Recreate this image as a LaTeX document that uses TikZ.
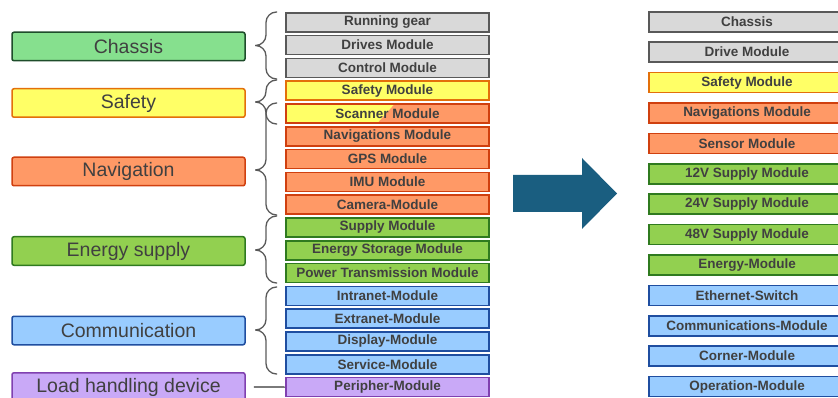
\documentclass[tikz,border=0pt]{standalone}
\usepackage{fontspec}
\setmainfont{Liberation Sans}
\usetikzlibrary{calc}
\definecolor{txt}{HTML}{404040}
\definecolor{greyF}{HTML}{D9D9D9}\definecolor{greyD}{HTML}{595959}
\definecolor{chasF}{HTML}{86E08E}\definecolor{chasD}{HTML}{1E4D2B}
\definecolor{yelF}{HTML}{FFFF66}\definecolor{yelD}{HTML}{E3700A}
\definecolor{orF}{HTML}{FF9966}\definecolor{orD}{HTML}{D0400F}
\definecolor{grF}{HTML}{92D050}\definecolor{grD}{HTML}{2F7A1F}
\definecolor{blF}{HTML}{99CCFF}\definecolor{blD}{HTML}{1F4EA0}
\definecolor{puF}{HTML}{C9A9F7}\definecolor{puD}{HTML}{8040B0}
\definecolor{arrowc}{HTML}{1A5E80}
\definecolor{bracec}{HTML}{5A5A5A}
\newcommand\bracepath[3]{%
  \draw[brc] (277,#1) -- (266,#1) -- (266,#2) -- (255,#2)
             (255,#2) -- (266,#2) -- (266,#3) -- (277,#3);}
\begin{document}
\begin{tikzpicture}[x=1pt,y=-1pt,
  cat/.style={draw, rounded corners=2pt, line width=1.5pt, minimum width=233pt,
    minimum height=28.5pt, inner sep=0pt, text=txt, font=\fontsize{19.5}{22}\selectfont},
  mod/.style={draw, line width=1.6pt, minimum width=203.4pt, minimum height=19pt,
    inner sep=0pt, text=txt, font=\fontsize{13.5}{15}\selectfont\bfseries},
  rmod/.style={mod, minimum width=196.4pt, minimum height=20pt},
  gry/.style={fill=greyF, draw=greyD},
  ylw/.style={fill=yelF, draw=yelD},
  org/.style={fill=orF, draw=orD},
  grn/.style={fill=grF, draw=grD},
  blu/.style={fill=blF, draw=blD},
  pur/.style={fill=puF, draw=puD},
  brc/.style={draw=bracec, line width=1.3pt, rounded corners=10.5pt},
]
\useasboundingbox (0,0) rectangle (838,398);
\clip (0,0) rectangle (838,398);

% category boxes
\node[cat, fill=chasF, draw=chasD] (cchas) at (128.5,46.5) {Chassis};
\node[cat, ylw] (csafe) at (128.5,103) {Safety};
\node[cat, org] (cnav) at (128.5,171.5) {Navigation};
\node[cat, grn] (cener) at (128.5,251) {Energy supply};
\node[cat, blu] (ccomm) at (128.5,330.5) {Communication};
\node[cat, pur] (cload) at (128.5,387) {Load handling device};

% middle modules
\def\mx{387.5}
\node[mod, gry] (run)   at (\mx,22.25)  {Running gear};
\node[mod, gry] (drv)   at (\mx,45.05)  {Drives Module};
\node[mod, gry] (ctl)   at (\mx,67.85)  {Control Module};
\node[mod, ylw] (saf)   at (\mx,90.65)  {Safety Module};
\node[mod, draw=orD, path picture={
   \fill[orF] (path picture bounding box.north west) rectangle (path picture bounding box.south east);
   \fill[yelF] (path picture bounding box.north west) -- ([xshift=7pt]path picture bounding box.north)
      -- ([xshift=-10pt]path picture bounding box.south) -- (path picture bounding box.south west) -- cycle;}]
   (scn) at (\mx,113.45) {Scanner Module};
\node[mod, org] (navm)  at (\mx,136.25) {Navigations Module};
\node[mod, org] (gps)   at (\mx,159.05) {GPS Module};
\node[mod, org] (imu)   at (\mx,181.85) {IMU Module};
\node[mod, org] (cam)   at (\mx,204.65) {Camera-Module};
\node[mod, grn] (sup)   at (\mx,227.45) {Supply Module};
\node[mod, grn] (est)   at (\mx,250.25) {Energy Storage Module};
\node[mod, grn] (ptm)   at (\mx,273.05) {Power Transmission Module};
\node[mod, blu] (intr)  at (\mx,295.85) {Intranet-Module};
\node[mod, blu] (extr)  at (\mx,318.65) {Extranet-Module};
\node[mod, blu] (disp)  at (\mx,341.45) {Display-Module};
\node[mod, blu] (serv)  at (\mx,364.25) {Service-Module};
\node[mod, pur] (peri)  at (\mx,387.05) {Peripher-Module};

% braces
\bracepath{12}{45.5}{79}
\bracepath{80}{102}{124}
\bracepath{103}{170}{215}
\bracepath{216}{250}{283}
\bracepath{287}{330}{374}

% load handling connector
\draw[line width=1.1pt, draw=black!80] ([xshift=8pt]cload.east) -- (peri.west);

% big arrow
\fill[arrowc] (513,175) -- (582,175) -- (582,158) -- (617,193.5) -- (582,229)
  -- (582,212) -- (513,212) -- cycle;

% right modules
\def\rx{747}
\node[rmod, gry] (r1)  at (\rx,21.75)  {Chassis};
\node[rmod, gry] (r2)  at (\rx,52.15)  {Drive Module};
\node[rmod, ylw] (r3)  at (\rx,82.55)  {Safety Module};
\node[rmod, org] (r4)  at (\rx,112.95) {Navigations Module};
\node[rmod, org] (r5)  at (\rx,143.35) {Sensor Module};
\node[rmod, grn] (r6)  at (\rx,173.75) {12V Supply Module};
\node[rmod, grn] (r7)  at (\rx,204.15) {24V Supply Module};
\node[rmod, grn] (r8)  at (\rx,234.55) {48V Supply Module};
\node[rmod, grn] (r9)  at (\rx,264.95) {Energy-Module};
\node[rmod, blu] (r10) at (\rx,295.35) {Ethernet-Switch};
\node[rmod, blu] (r11) at (\rx,325.75) {Communications-Module};
\node[rmod, blu] (r12) at (\rx,356.15) {Corner-Module};
\node[rmod, blu] (r13) at (\rx,386.55) {Operation-Module};
\end{tikzpicture}
\end{document}
